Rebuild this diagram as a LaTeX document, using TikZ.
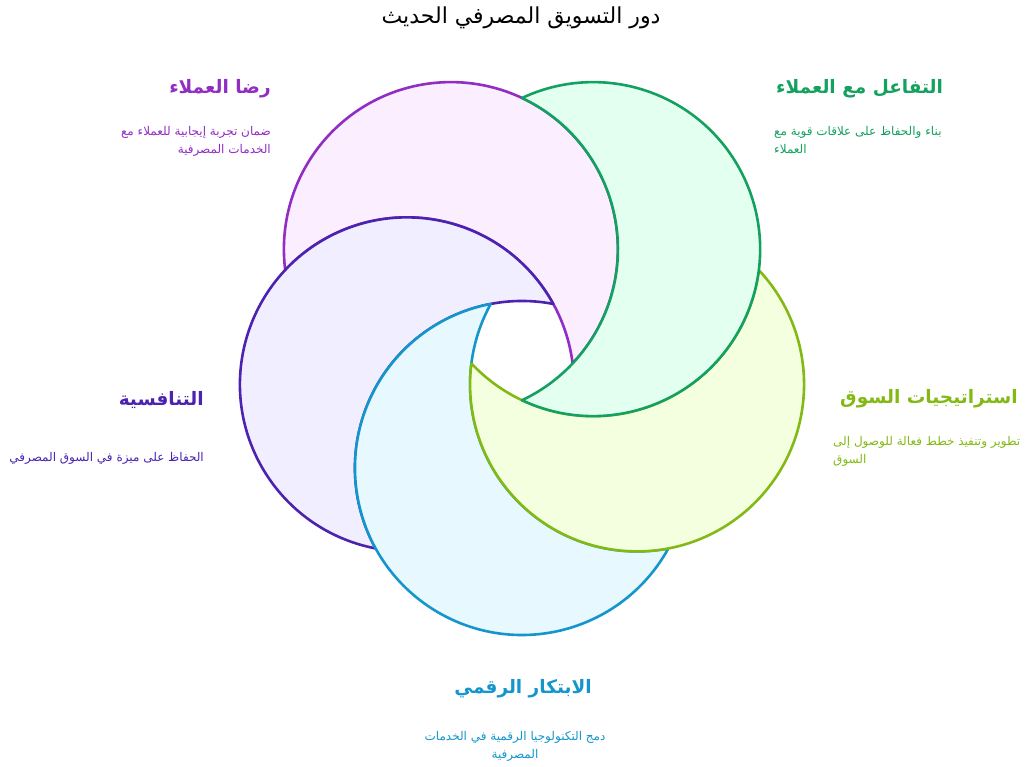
\documentclass[tikz,border=0pt]{standalone}
\usepackage{fontspec}
\usetikzlibrary{calc}
\newfontfamily\arabicfont[Script=Arabic]{DejaVu Sans}
\TeXXeTstate=1
\definecolor{ppl}{RGB}{145,45,195}
\definecolor{bgppl}{RGB}{250,238,255}
\definecolor{ind}{RGB}{75,35,175}
\definecolor{bgind}{RGB}{241,239,255}
\definecolor{blu}{RGB}{20,150,205}
\definecolor{bgblu}{RGB}{231,248,255}
\definecolor{lim}{RGB}{130,185,20}
\definecolor{bglim}{RGB}{244,255,223}
\definecolor{grn}{RGB}{20,160,95}
\definecolor{bggrn}{RGB}{226,255,240}
\begin{document}
\begin{tikzpicture}[x=1pt,y=1pt,
    crs/.style={line width=2.6pt,line join=round},
    hd/.style={font=\arabicfont\bfseries\fontsize{18.5}{22}\selectfont,inner sep=0pt},
    dsc/.style={font=\arabicfont\fontsize{12}{18}\selectfont,inner sep=0pt}]
  \useasboundingbox (0,0) rectangle (1033,767);
  \coordinate (hub) at (522,420);
  % each crescent: disk at \a minus the disk at \a+72
  \foreach \a/\c in {126/ppl,198/ind,270/blu,342/lim,414/grn}
    \draw[crs,draw=\c,fill=bg\c] ($(hub)+(\a:121)+(\a+190.8:167)$)
      arc[start angle=\a+190.8,end angle=\a+421.2,radius=167]
      arc[start angle=\a+370.8,end angle=\a+241.2,radius=167] -- cycle;
  \node[font=\arabicfont\fontsize{22}{26}\selectfont] (ttl) at (521,749)
    {\beginR دور التسويق المصرفي الحديث\endR};
  % labels
  \node[hd,ppl,anchor=east] (h1) at (271,678) {\beginR رضا العملاء\endR};
  \node[dsc,ppl,anchor=north east,align=right] (d1) at (271,641)
    {\beginR ضمان تجربة إيجابية للعملاء مع\endR\\\beginR الخدمات المصرفية\endR};
  \node[hd,grn,anchor=west] (h2) at (776,678) {\beginR التفاعل مع العملاء\endR};
  \node[dsc,grn,anchor=north west,align=left] (d2) at (774,641)
    {\beginR بناء والحفاظ على علاقات قوية مع\endR\\\beginR العملاء\endR};
  \node[hd,ind,anchor=east] (h3) at (204,367) {\beginR التنافسية\endR};
  \node[dsc,ind,anchor=east] (d3) at (204,309)
    {\beginR الحفاظ على ميزة في السوق المصرفي\endR};
  \node[hd,lim,anchor=west] (h4) at (840,368) {\beginR استراتيجيات السوق\endR};
  \node[dsc,lim,anchor=north west,align=left] (d4) at (833,331)
    {\beginR تطوير وتنفيذ خطط فعالة للوصول إلى\endR\\\beginR السوق\endR};
  \node[hd,blu] (h5) at (523,78) {\beginR الابتكار الرقمي\endR};
  \node[dsc,blu,anchor=north,align=center] (d5) at (515,36)
    {\beginR دمج التكنولوجيا الرقمية في الخدمات\endR\\\beginR المصرفية\endR};
\end{tikzpicture}
\end{document}
